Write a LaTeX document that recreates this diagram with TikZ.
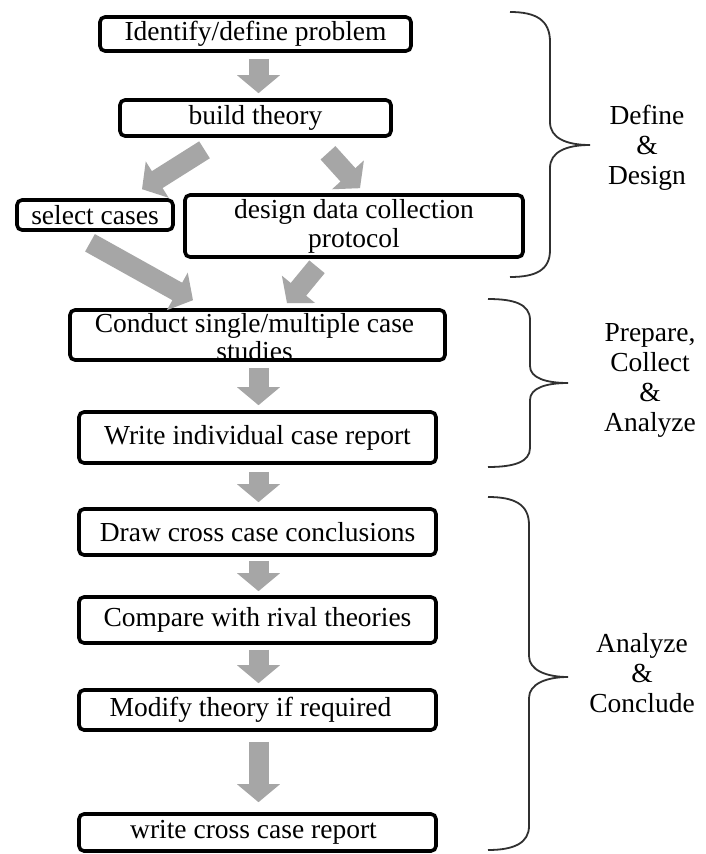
\documentclass[tikz,border=0pt]{standalone}
\usepackage{fontspec}
\setmainfont{Liberation Serif}
\usetikzlibrary{arrows.meta,calc}
\definecolor{arrgray}{HTML}{A6A6A6}
\definecolor{bracecol}{HTML}{303030}
\begin{document}
\begin{tikzpicture}[x=1pt,y=-1pt,
  box/.style={draw=black, line width=3.6pt, rounded corners=5pt, fill=white, inner sep=0pt, align=center, font=\fontsize{27.5}{29}\selectfont},
  blk/.style={draw=arrgray, line width=20pt, -{Triangle[width=42pt,length=18pt]}},
  brc/.style={draw=bracecol, line width=1.8pt},
  lbl/.style={align=center, inner sep=0pt, font=\fontsize{27.5}{30}\selectfont}]
\useasboundingbox[fill=white] (0,0) rectangle (705,854);

% boxes
\node[box, minimum width=311pt, minimum height=34pt] (id) at (255.5,34) {Identify/define problem};
\node[box, minimum width=271pt, minimum height=36pt] (bt) at (255.5,118) {build theory};
\node[box, minimum width=156pt, minimum height=30pt] (sc) at (95,215) {select cases};
\node[box, minimum width=338pt, minimum height=62pt] (dd) at (354,226) {design data collection\\protocol};
\node[box, minimum width=375pt, minimum height=50pt] (cs) at (257.5,335) {};
\node[lbl, font=\fontsize{27.5}{28}\selectfont] (cst) at ($(cs.center)+(-3,2)$) {Conduct single/multiple case\\studies};
\node[box, minimum width=357pt, minimum height=51pt] (wr) at (257.5,437.5) {Write individual case report};
\node[box, minimum width=357pt, minimum height=46pt] (dr) at (257.5,532) {Draw cross case conclusions};
\node[box, minimum width=357pt, minimum height=46pt] (cp) at (257.5,620) {Compare with rival theories};
\node[box, minimum width=357pt, minimum height=40pt] (md) at (257.5,710) {Modify theory if required\hspace{14pt}};
\node[box, minimum width=357pt, minimum height=37pt] (wc) at (257.5,832.5) {write cross case report\hspace{8pt}};

% block arrows
\draw[blk, shorten <=6pt, shorten >=5pt] ([xshift=3pt]id.south) -- ([xshift=3pt]bt.north);
\draw[blk] ($(bt.south)+(-51,12)$) -- ($(sc.north)+(47,-9)$);
\draw[blk] ($(bt.south)+(72.5,15)$) -- ($(dd.north)+(6,-5)$);
\draw[blk] ($(sc.south)+(-5,11)$) -- ($(cs.north)+(-64.5,-8)$);
\draw[blk] ($(dd.south)+(-37,8)$) -- ($(cs.north)+(29.5,-5)$);
\draw[blk, shorten <=6pt, shorten >=5pt] ([xshift=1pt]cs.south) -- ([xshift=1pt]wr.north);
\draw[blk, shorten <=7pt, shorten >=5pt] ([xshift=1pt]wr.south) -- ([xshift=1pt]dr.north);
\draw[blk, shorten <=4pt, shorten >=4pt] ([xshift=1pt]dr.south) -- ([xshift=1pt]cp.north);
\draw[blk, shorten <=5pt, shorten >=5pt] ([xshift=1pt]cp.south) -- ([xshift=1pt]md.north);
\draw[blk, shorten <=10pt, shorten >=10pt] ([xshift=1pt]md.south) -- ([xshift=1pt]wc.north);

% braces
\draw[brc] (510,12) .. controls (536,12) and (550,20) .. (550,42) -- (550,122)
  .. controls (550,138) and (566,145) .. (590,145)
  .. controls (566,145) and (550,152) .. (550,168) -- (550,250)
  .. controls (550,270) and (536,277) .. (510,277);
\draw[brc] (488,299) .. controls (514,299) and (530,304) .. (530,320) -- (530,366)
  .. controls (530,378) and (546,383) .. (568,383)
  .. controls (546,383) and (530,388) .. (530,400) -- (530,448)
  .. controls (530,462) and (514,467) .. (488,467);
\draw[brc] (488,497) .. controls (514,497) and (529,504) .. (529,525) -- (529,656)
  .. controls (529,670) and (546,677) .. (568,677)
  .. controls (546,677) and (529,684) .. (529,698) -- (529,826)
  .. controls (529,843) and (514,850) .. (488,850);

% phase labels
\node[lbl] (l1) at (647,148) {Define\\\&\\Design};
\node[lbl] (l2) at (650,380) {Prepare,\\Collect\\\&\\Analyze};
\node[lbl] (l3) at (642,673) {Analyze\\\&\\Conclude};
\end{tikzpicture}
\end{document}
